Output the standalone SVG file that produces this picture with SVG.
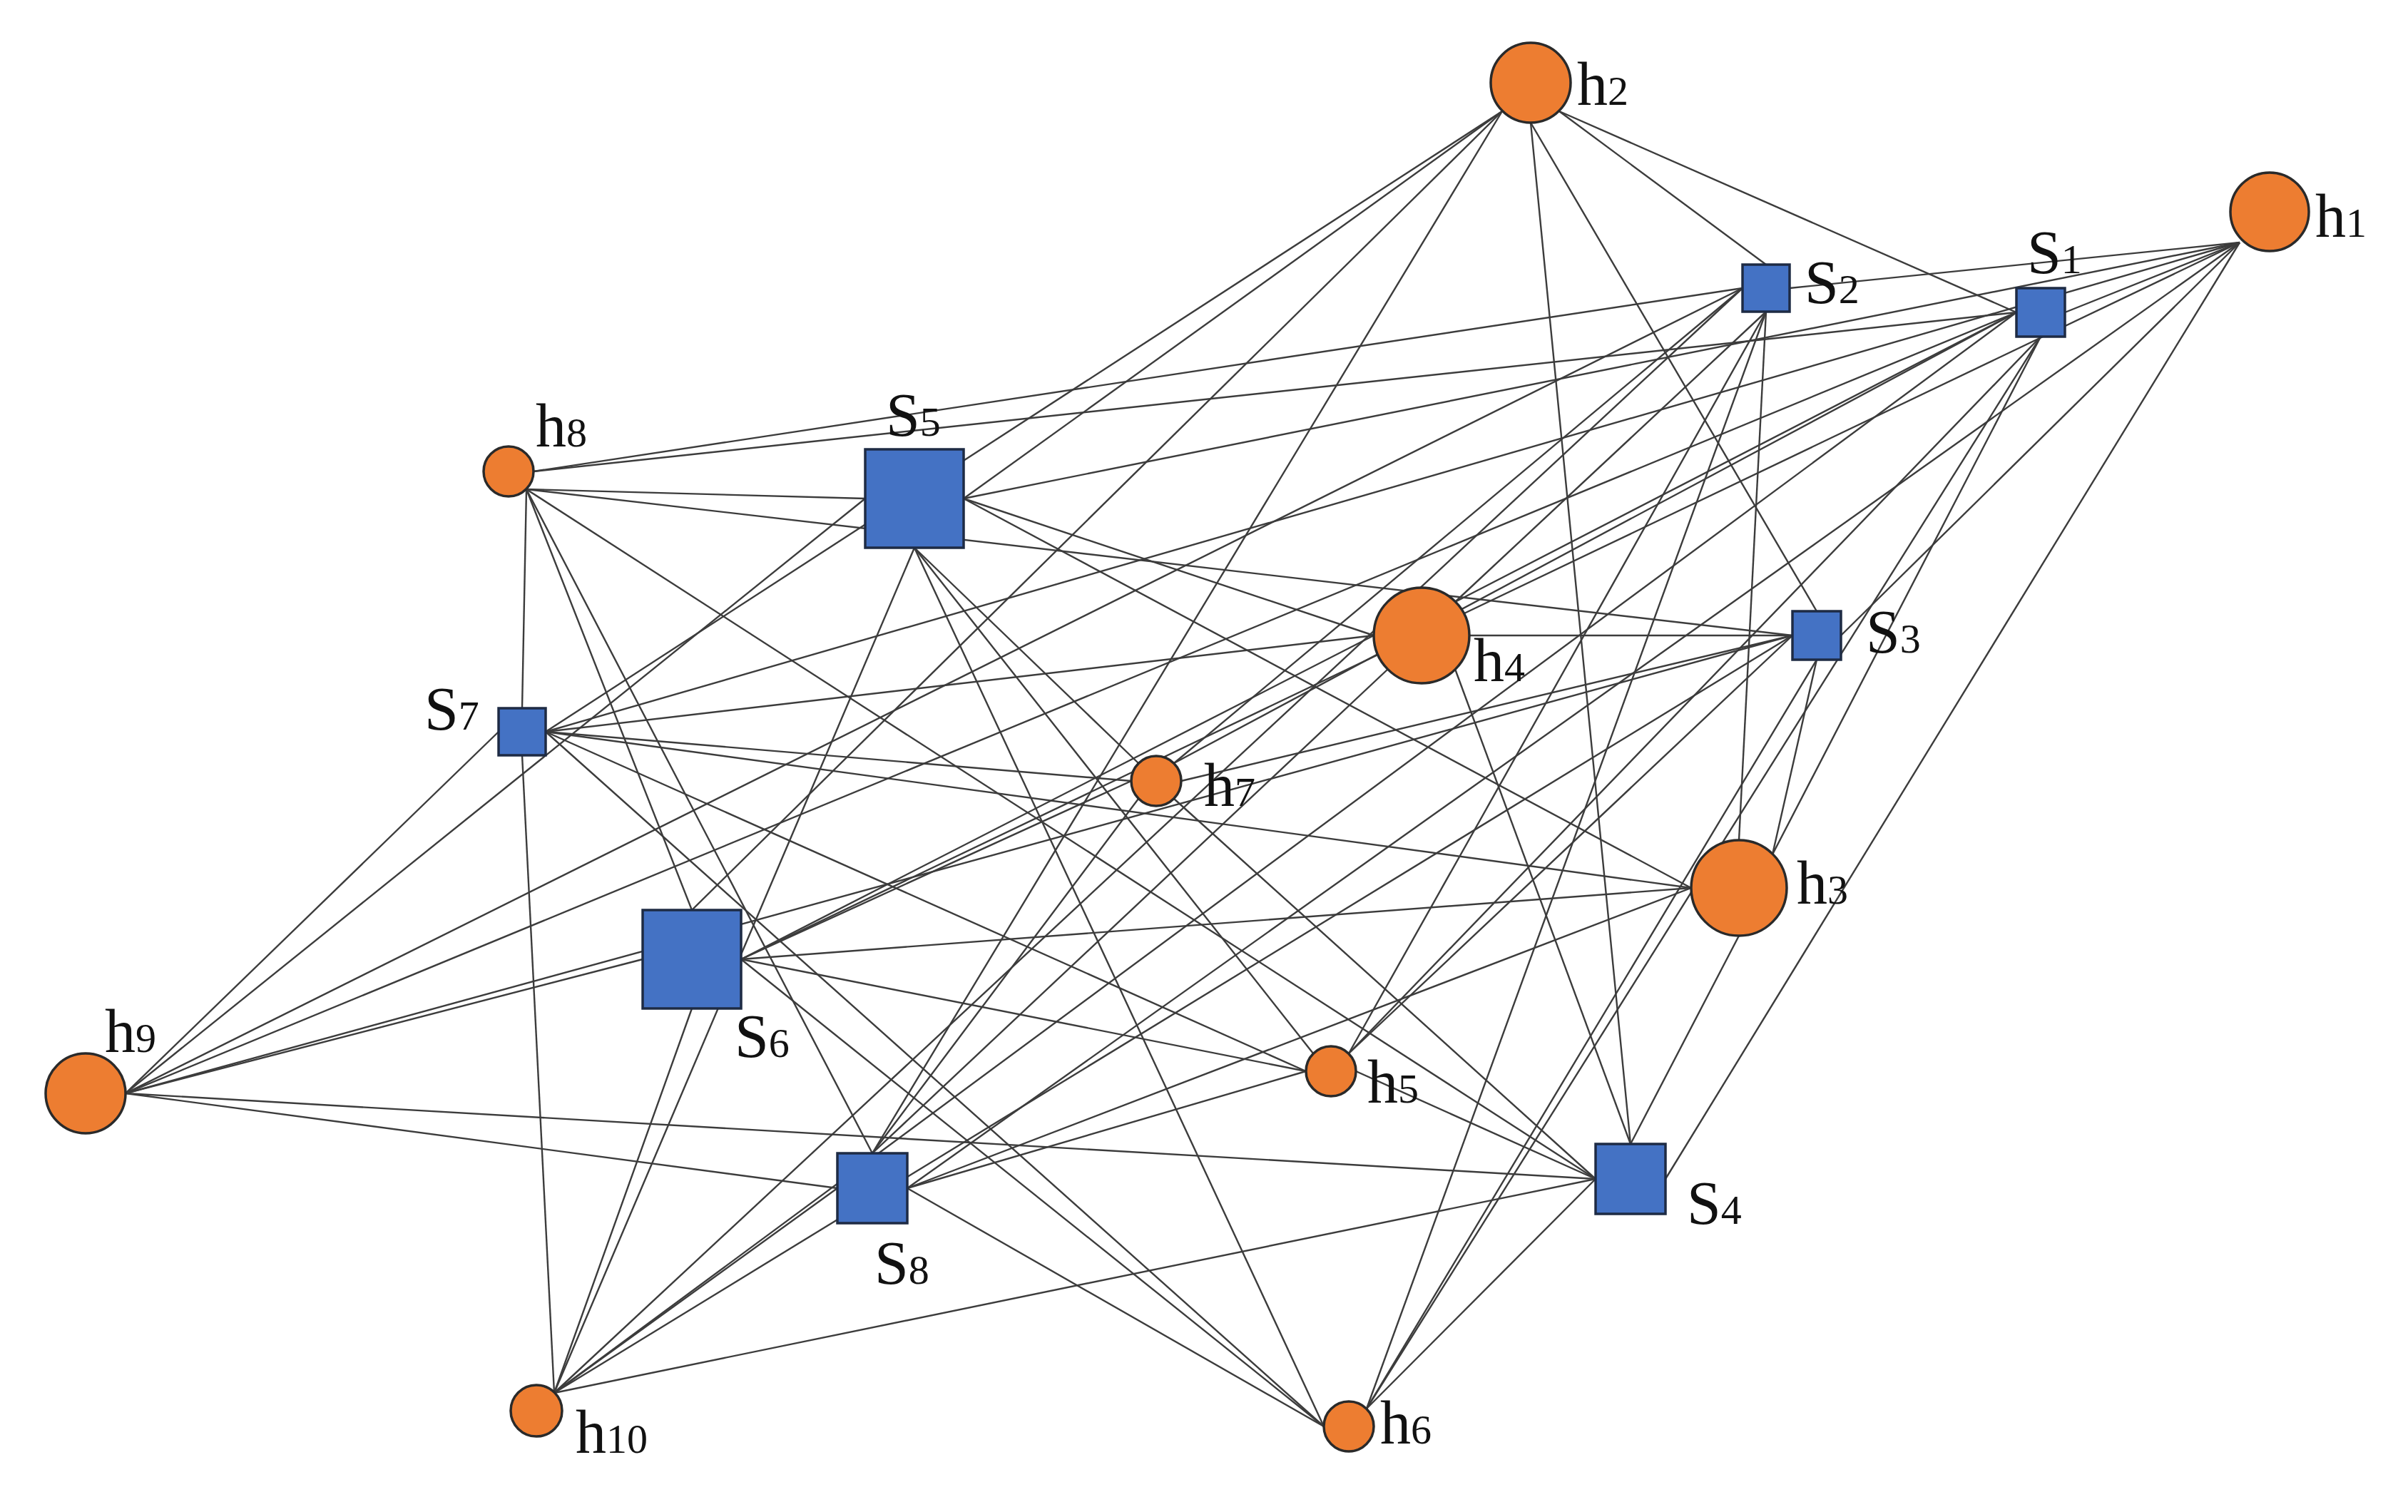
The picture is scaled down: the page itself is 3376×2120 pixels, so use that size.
<svg xmlns="http://www.w3.org/2000/svg" width="3376" height="2120" viewBox="0 0 3376 2120">
<style>
.e{stroke:#3c3c3c;stroke-width:2.4;fill:none}
.h{fill:#ED7D31;stroke:#2a2a2a;stroke-width:3.5}
.s{fill:#4472C4;stroke:#1e2b44;stroke-width:3.5}
.t{font-family:"Liberation Serif","Times New Roman",serif;font-size:86px;fill:#111}
.d{font-size:58px}
</style>
<rect width="3376" height="2120" fill="#fff"/>
<g id="connectors">
<line class="e" x1="3140" y1="340" x2="2895" y2="438"/>
<line class="e" x1="3140" y1="340" x2="2509" y2="404"/>
<line class="e" x1="3140" y1="340" x2="2581" y2="891"/>
<line class="e" x1="3140" y1="340" x2="2335" y2="1653"/>
<line class="e" x1="3140" y1="340" x2="1351" y2="699"/>
<line class="e" x1="3140" y1="340" x2="1039" y2="1345"/>
<line class="e" x1="3140" y1="340" x2="765" y2="1026"/>
<line class="e" x1="3140" y1="340" x2="1272" y2="1666"/>
<line class="e" x1="2186" y1="156" x2="2827" y2="438"/>
<line class="e" x1="2186" y1="156" x2="2476" y2="371"/>
<line class="e" x1="2146" y1="172" x2="2547" y2="857"/>
<line class="e" x1="2146" y1="172" x2="2286" y2="1604"/>
<line class="e" x1="2106" y1="156" x2="1351" y2="699"/>
<line class="e" x1="2106" y1="156" x2="970" y2="1276"/>
<line class="e" x1="2106" y1="156" x2="765" y2="1026"/>
<line class="e" x1="2106" y1="156" x2="1223" y2="1617"/>
<line class="e" x1="2485" y1="1198" x2="2861" y2="472"/>
<line class="e" x1="2438" y1="1178" x2="2476" y2="437"/>
<line class="e" x1="2485" y1="1198" x2="2547" y2="925"/>
<line class="e" x1="2438" y1="1312" x2="2286" y2="1604"/>
<line class="e" x1="2371" y1="1245" x2="1351" y2="699"/>
<line class="e" x1="2371" y1="1245" x2="1039" y2="1345"/>
<line class="e" x1="2371" y1="1245" x2="765" y2="1026"/>
<line class="e" x1="2371" y1="1245" x2="1272" y2="1666"/>
<line class="e" x1="2040" y1="844" x2="2827" y2="438"/>
<line class="e" x1="2040" y1="844" x2="2476" y2="437"/>
<line class="e" x1="2060" y1="891" x2="2513" y2="891"/>
<line class="e" x1="2040" y1="938" x2="2286" y2="1604"/>
<line class="e" x1="1926" y1="891" x2="1351" y2="699"/>
<line class="e" x1="1926" y1="891" x2="1039" y2="1345"/>
<line class="e" x1="1926" y1="891" x2="765" y2="1026"/>
<line class="e" x1="1946" y1="938" x2="1223" y2="1617"/>
<line class="e" x1="1891" y1="1477" x2="2861" y2="472"/>
<line class="e" x1="1891" y1="1477" x2="2476" y2="437"/>
<line class="e" x1="1891" y1="1477" x2="2513" y2="891"/>
<line class="e" x1="1901" y1="1502" x2="2237" y2="1653"/>
<line class="e" x1="1841" y1="1477" x2="1282" y2="768"/>
<line class="e" x1="1831" y1="1502" x2="1039" y2="1345"/>
<line class="e" x1="1831" y1="1502" x2="765" y2="1026"/>
<line class="e" x1="1831" y1="1502" x2="1272" y2="1666"/>
<line class="e" x1="1916" y1="1975" x2="2861" y2="472"/>
<line class="e" x1="1916" y1="1975" x2="2476" y2="437"/>
<line class="e" x1="1916" y1="1975" x2="2547" y2="925"/>
<line class="e" x1="1916" y1="1975" x2="2237" y2="1653"/>
<line class="e" x1="1856" y1="2000" x2="1282" y2="768"/>
<line class="e" x1="1856" y1="2000" x2="1039" y2="1345"/>
<line class="e" x1="1856" y1="2000" x2="765" y2="1026"/>
<line class="e" x1="1856" y1="2000" x2="1272" y2="1666"/>
<line class="e" x1="1646" y1="1070" x2="2827" y2="438"/>
<line class="e" x1="1646" y1="1070" x2="2443" y2="404"/>
<line class="e" x1="1656" y1="1095" x2="2513" y2="891"/>
<line class="e" x1="1646" y1="1120" x2="2237" y2="1653"/>
<line class="e" x1="1596" y1="1070" x2="1282" y2="768"/>
<line class="e" x1="1586" y1="1095" x2="1039" y2="1345"/>
<line class="e" x1="1586" y1="1095" x2="765" y2="1026"/>
<line class="e" x1="1596" y1="1120" x2="1223" y2="1617"/>
<line class="e" x1="748" y1="661" x2="2827" y2="438"/>
<line class="e" x1="748" y1="661" x2="2443" y2="404"/>
<line class="e" x1="738" y1="686" x2="2513" y2="891"/>
<line class="e" x1="738" y1="686" x2="2237" y2="1653"/>
<line class="e" x1="738" y1="686" x2="1213" y2="699"/>
<line class="e" x1="738" y1="686" x2="970" y2="1276"/>
<line class="e" x1="738" y1="686" x2="732" y2="993"/>
<line class="e" x1="738" y1="686" x2="1223" y2="1617"/>
<line class="e" x1="176" y1="1533" x2="2827" y2="438"/>
<line class="e" x1="176" y1="1533" x2="2443" y2="404"/>
<line class="e" x1="176" y1="1533" x2="2513" y2="891"/>
<line class="e" x1="176" y1="1533" x2="2237" y2="1653"/>
<line class="e" x1="176" y1="1533" x2="1213" y2="699"/>
<line class="e" x1="176" y1="1533" x2="901" y2="1345"/>
<line class="e" x1="176" y1="1533" x2="699" y2="1026"/>
<line class="e" x1="176" y1="1533" x2="1174" y2="1666"/>
<line class="e" x1="777" y1="1953" x2="2827" y2="438"/>
<line class="e" x1="777" y1="1953" x2="2443" y2="404"/>
<line class="e" x1="777" y1="1953" x2="2513" y2="891"/>
<line class="e" x1="777" y1="1953" x2="2237" y2="1653"/>
<line class="e" x1="777" y1="1953" x2="1282" y2="768"/>
<line class="e" x1="777" y1="1953" x2="970" y2="1414"/>
<line class="e" x1="777" y1="1953" x2="732" y2="1059"/>
<line class="e" x1="777" y1="1953" x2="1174" y2="1666"/>
</g>
<g id="h1"><circle class="h" cx="3182" cy="297" r="55"/><text class="t" x="3246" y="332">h<tspan class="d">1</tspan></text></g>
<g id="h2"><circle class="h" cx="2146" cy="116" r="56"/><text class="t" x="2211" y="147">h<tspan class="d">2</tspan></text></g>
<g id="h3"><circle class="h" cx="2438" cy="1245" r="67"/><text class="t" x="2519" y="1267">h<tspan class="d">3</tspan></text></g>
<g id="h4"><circle class="h" cx="1993" cy="891" r="67"/><text class="t" x="2066" y="955">h<tspan class="d">4</tspan></text></g>
<g id="h5"><circle class="h" cx="1866" cy="1502" r="35"/><text class="t" x="1917" y="1546">h<tspan class="d">5</tspan></text></g>
<g id="h6"><circle class="h" cx="1891" cy="2000" r="35"/><text class="t" x="1935" y="2024">h<tspan class="d">6</tspan></text></g>
<g id="h7"><circle class="h" cx="1621" cy="1095" r="35"/><text class="t" x="1688" y="1130">h<tspan class="d">7</tspan></text></g>
<g id="h8"><circle class="h" cx="713" cy="661" r="35"/><text class="t" x="751" y="626">h<tspan class="d">8</tspan></text></g>
<g id="h9"><circle class="h" cx="120" cy="1533" r="56"/><text class="t" x="147" y="1475">h<tspan class="d">9</tspan></text></g>
<g id="h10"><circle class="h" cx="752" cy="1978" r="36"/><text class="t" x="807" y="2037">h<tspan class="d">10</tspan></text></g>
<g id="S1"><rect class="s" x="2827" y="404" width="68" height="68"/><text class="t" x="2842" y="383">S<tspan class="d">1</tspan></text></g>
<g id="S2"><rect class="s" x="2443" y="371" width="66" height="66"/><text class="t" x="2530" y="425">S<tspan class="d">2</tspan></text></g>
<g id="S3"><rect class="s" x="2513" y="857" width="68" height="68"/><text class="t" x="2616" y="915">S<tspan class="d">3</tspan></text></g>
<g id="S4"><rect class="s" x="2237" y="1604" width="98" height="98"/><text class="t" x="2365" y="1716">S<tspan class="d">4</tspan></text></g>
<g id="S5"><rect class="s" x="1213" y="630" width="138" height="138"/><text class="t" x="1242" y="611">S<tspan class="d">5</tspan></text></g>
<g id="S6"><rect class="s" x="901" y="1276" width="138" height="138"/><text class="t" x="1030" y="1482">S<tspan class="d">6</tspan></text></g>
<g id="S7"><rect class="s" x="699" y="993" width="66" height="66"/><text class="t" x="595" y="1023">S<tspan class="d">7</tspan></text></g>
<g id="S8"><rect class="s" x="1174" y="1617" width="98" height="98"/><text class="t" x="1226" y="1800">S<tspan class="d">8</tspan></text></g>
</svg>
